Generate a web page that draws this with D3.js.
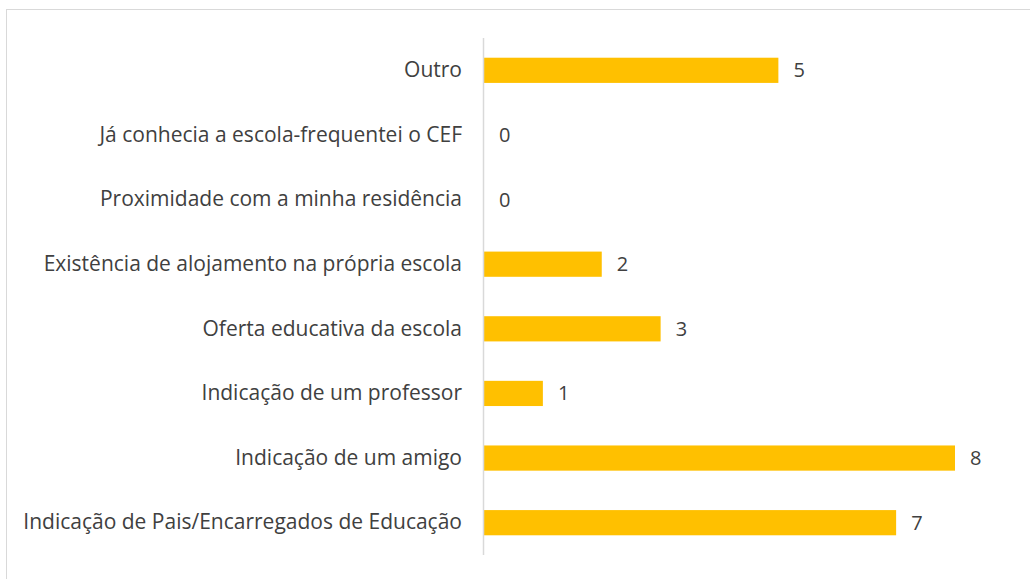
<!DOCTYPE html>
<html><head><meta charset="utf-8">
<script src="https://cdn.jsdelivr.net/npm/d3@7"></script>
<style>body{margin:0;background:#fff;} text{font-family:"Open Sans",sans-serif;}</style>
</head><body>
<svg id="c" width="1030" height="579"></svg>
<script>
const categories = ["Outro","Já conhecia a escola-frequentei o CEF","Proximidade com a minha residência","Existência de alojamento na própria escola","Oferta educativa da escola","Indicação de um professor","Indicação de um amigo","Indicação de Pais/Encarregados de Educação"];
const values = [5,0,0,2,3,1,8,7];

const svg = d3.select("#c");
svg.append("rect").attr("x",6.5).attr("y",9.5).attr("width",1030).attr("height",600)
  .attr("fill","#fff").attr("stroke","#d9d9d9").attr("stroke-width",1);

const x = d3.scaleLinear().domain([0,8]).range([484,955]);
const y = d3.scaleBand().domain(categories).range([38,555]).paddingInner(0.61).paddingOuter(0.305);

svg.append("g").selectAll("rect").data(categories).join("rect")
  .attr("x",x(0)).attr("y",d=>y(d)).attr("width",(d,i)=>x(values[i])-x(0)).attr("height",y.bandwidth())
  .attr("fill","#FFC000");

svg.append("line").attr("x1",483.5).attr("x2",483.5).attr("y1",38).attr("y2",555)
  .attr("stroke","#d9d9d9").attr("stroke-width",1.5);

const yAxis = d3.axisLeft(y).tickSize(0).tickPadding(22);
const g = svg.append("g").attr("transform","translate(484,0)").call(yAxis);
g.select(".domain").remove();
g.selectAll("text").attr("font-family","'Open Sans',sans-serif").attr("font-size",21).attr("fill","#404040");

svg.append("g").selectAll("text").data(categories).join("text")
  .attr("x",(d,i)=>x(values[i])+15).attr("y",d=>y(d)+y.bandwidth()/2).attr("dy","0.35em")
  .attr("font-size",20).attr("fill","#404040").text((d,i)=>values[i]);
</script>
</body></html>
